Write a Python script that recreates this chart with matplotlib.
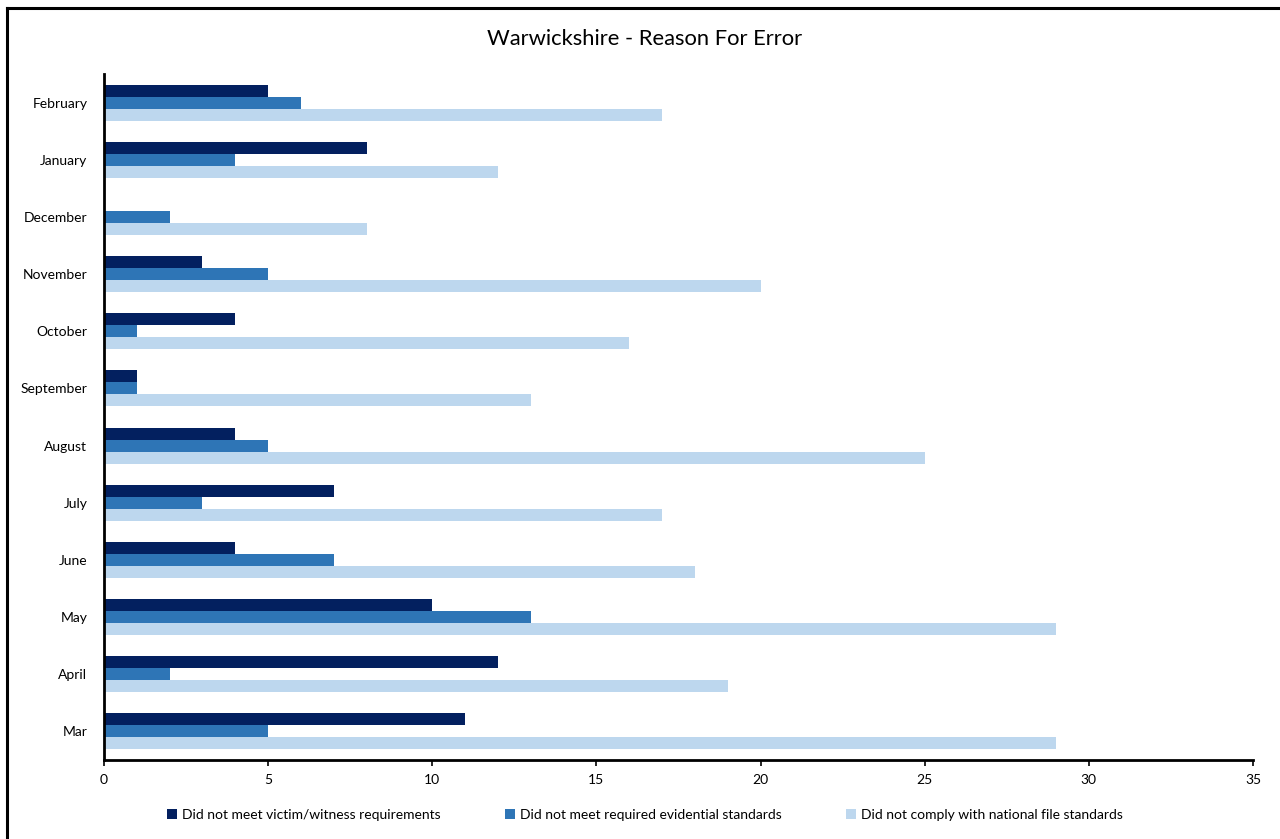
import numpy as np
import matplotlib.pyplot as plt
from matplotlib.lines import Line2D

# --- data (bottom to top, as drawn)
months = ["Mar", "April", "May", "June", "July", "August", "September",
          "October", "November", "December", "January", "February"]
victim_witness = [11, 12, 10, 4, 7, 4, 1, 4, 3, 0, 8, 5]
evidential     = [5, 2, 13, 7, 3, 5, 1, 1, 5, 2, 4, 6]
national_file  = [29, 19, 29, 18, 17, 25, 13, 16, 20, 8, 12, 17]

series_names = ["Did not meet victim/witness requirements",
                "Did not meet required evidential standards",
                "Did not comply with national file standards"]
colors = ["#03205f", "#2e75b6", "#bdd7ee"]

plt.rcParams['font.family'] = ['Lato', 'DejaVu Sans']

# --- setup
fig = plt.figure(figsize=(12.8, 8.39), dpi=100)
ax = fig.add_axes([104/1280, 1-760/839, (1253-104)/1280, (760-74)/839])

y = np.arange(len(months))
h = 0.21
for i, (vals, name, col) in enumerate(zip([victim_witness, evidential, national_file],
                                          series_names, colors)):
    ax.barh(y + (1 - i)*h, vals, height=h, color=col, label=name, linewidth=0)

# --- axes styling
ax.set_xlim(0, 35)
ax.set_ylim(-0.5, len(months) - 0.5)
ax.set_xticks(np.arange(0, 36, 5))
ax.set_yticks(y)
ax.set_yticklabels(months)
ax.tick_params(axis="x", direction="out", length=4, width=1.2, labelsize=10, pad=6)
ax.tick_params(axis="y", length=0, labelsize=10, pad=12)
for s in ["top", "right"]:
    ax.spines[s].set_visible(False)
for s in ["left", "bottom"]:
    ax.spines[s].set_linewidth(2)
    ax.spines[s].set_color("black")

# --- title and legend
fig.text(645/1280, 1-39/839, "Warwickshire - Reason For Error", ha="center", va="center",
         fontsize=15.8)
fig.legend(loc="center", bbox_to_anchor=(645/1280, 1-815/839), ncol=3, frameon=False,
           fontsize=10, handlelength=0.7, handleheight=0.7, columnspacing=4.6,
           handletextpad=0.4)

# --- outer frame (top and left edges visible)
fig.add_artist(Line2D([7/1280, 7/1280], [0, 1-8/839], transform=fig.transFigure,
                      color="black", lw=2.2))
fig.add_artist(Line2D([7/1280, 1], [1-8/839, 1-8/839], transform=fig.transFigure,
                      color="black", lw=2.2))

fig.savefig("out.png", dpi=100)
